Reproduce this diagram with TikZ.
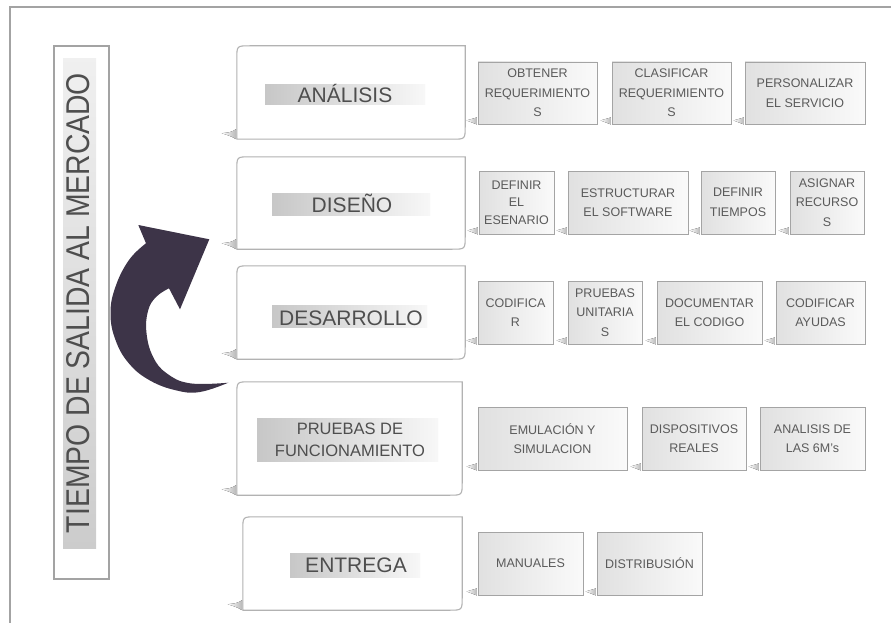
\documentclass[tikz,border=0pt]{standalone}
\usepackage{fontspec}
\usepackage{graphicx}
\setmainfont{Liberation Sans}
\usetikzlibrary{calc}

\definecolor{framegray}{HTML}{A3A3A3}
\definecolor{boxline}{HTML}{B2B2B2}
\definecolor{subline}{HTML}{A4A4A4}
\definecolor{txtgray}{HTML}{4E4E4E}
\definecolor{subtxt}{HTML}{5A5A5A}
\definecolor{arrowpurple}{HTML}{3D3448}

\tikzset{
  stagearea/.style={inner sep=0pt, draw=none},
  stageline/.style={draw=boxline, line width=1.1pt, fill=white},
  stagelabel/.style={text=txtgray, font=\fontsize{21}{24}\selectfont, inner sep=0pt, anchor=base},
  band/.style={left color=black!22, right color=black!3, draw=none},
  subbox/.style={draw=subline, line width=0.9pt, left color=black!12, right color=black!2,
    text=subtxt, font=\fontsize{12.5}{19.5}\selectfont, align=center, inner sep=1pt},
  dropshade/.style={left color=white, right color=black!28, draw=none},
}

% frame of a stage: rounded top-left and bottom-right corners, soft shadow at bottom-left
\newcommand{\stageframe}[1]{%
  \fill[dropshade] ([yshift=10pt,xshift=-0.6pt]#1.south west) .. controls ([xshift=-6pt,yshift=7pt]#1.south west) ..
     ([xshift=-15pt,yshift=6pt]#1.south west) .. controls ([xshift=-6pt,yshift=3pt]#1.south west) ..
     ([xshift=-0.6pt]#1.south west) -- cycle;
  \draw[stageline] (#1.south west) -- ([yshift=-13pt]#1.north west) .. controls (#1.north west) ..
     ([xshift=13pt]#1.north west) -- (#1.north east) -- ([yshift=13pt]#1.south east)
     .. controls (#1.south east) .. ([xshift=-13pt]#1.south east) -- cycle;}

% small shadow at the bottom-left of a task box
\newcommand{\taskshadow}[1]{%
  \fill[dropshade] ([yshift=7pt,xshift=-0.6pt]#1.south west) .. controls ([xshift=-5pt,yshift=5pt]#1.south west) ..
     ([xshift=-11pt,yshift=4pt]#1.south west) .. controls ([xshift=-5pt,yshift=2pt]#1.south west) ..
     ([xshift=-0.6pt]#1.south west) -- cycle;}

\begin{document}
\begin{tikzpicture}[x=1pt,y=-1pt]
\useasboundingbox (0,0) rectangle (891,623);

% outer frame
\draw[framegray, line width=1.2pt] (10,623) -- (10,7) -- (891,7);

% time-to-market bar
\node[draw=framegray, line width=1.2pt, minimum width=55pt, minimum height=533pt, inner sep=0pt] (tsmbox) at (81.5,312.5) {};
\fill[top color=black!6, bottom color=black!20] (63,59) rectangle (96,548);
\node[rotate=90, text=txtgray, inner sep=0pt] (tsm) at (78.5,303) {\resizebox{460pt}{23pt}{TIEMPO DE SALIDA AL MERCADO}};

% curved arrow
\fill[arrowpurple] (209.3,239.3) -- (180,309.3) -- (169,288.3)
  -- plot[smooth, tension=0.7] coordinates {(169,288.3) (156,297) (148,311) (146.5,333) (153,356.7) (166.7,373.3) (190,383.3) (228.3,382.7)}
  -- plot[smooth, tension=0.7] coordinates {(228.3,382.7) (200,392) (176.7,390.5) (150,380.5) (129,363.5) (115.5,340) (110.5,313.3) (115.5,286.7) (129,260) (146,243.3)}
  -- (138.3,225) -- cycle;

% stages
\node[stagearea, minimum width=228pt, minimum height=93pt] (ana) at (351,92.5) {};
\node[stagearea, minimum width=228pt, minimum height=92pt] (dis) at (351,203) {};
\node[stagearea, minimum width=228pt, minimum height=93pt] (des) at (351,312.5) {};
\node[stagearea, minimum width=225pt, minimum height=113pt] (pru) at (349.5,438.5) {};
\node[stagearea, minimum width=219pt, minimum height=93pt] (ent) at (352.5,563.5) {};
\stageframe{ana}\stageframe{dis}\stageframe{des}\stageframe{pru}\stageframe{ent}

\fill[band] (265,85) rectangle (425,105);
\fill[band] (272,193) rectangle (430,215);
\fill[band] (272,305) rectangle (427,327);
\fill[band] (257,418) rectangle (438,461);
\fill[band] (290,553) rectangle (420,577);

\node[stagelabel] (analbl) at (345,103) {ANÁLISIS};
\node[stagelabel] (dislbl) at (352,212) {DISEÑO};
\node[stagelabel] (deslbl) at (351,325) {DESARROLLO};
\node[text=txtgray, font=\fontsize{16.5}{22}\selectfont, align=center, inner sep=0pt] (prulbl) at (350,440) {PRUEBAS DE\\FUNCIONAMIENTO};
\node[stagelabel] (entlbl) at (356,572) {ENTREGA};

% tasks: analysis
\node[subbox, minimum width=119pt, minimum height=62pt] (a1) at (537.5,93) {OBTENER\\REQUERIMIENTO\\S};
\node[subbox, minimum width=119pt, minimum height=62pt] (a2) at (671.5,93) {CLASIFICAR\\REQUERIMIENTO\\S};
\node[subbox, minimum width=120pt, minimum height=62pt] (a3) at (805,93) {PERSONALIZAR\\EL SERVICIO};
% tasks: design
\node[subbox, minimum width=75pt, minimum height=63pt, font=\fontsize{12.5}{17.5}\selectfont] (b1) at (516.5,202.5) {DEFINIR\\EL\\ESENARIO};
\node[subbox, minimum width=120pt, minimum height=63pt] (b2) at (628,202.5) {ESTRUCTURAR\\EL SOFTWARE};
\node[subbox, minimum width=74pt, minimum height=63pt] (b3) at (738,202.5) {DEFINIR\\TIEMPOS};
\node[subbox, minimum width=74pt, minimum height=63pt] (b4) at (827,202.5) {ASIGNAR\\RECURSO\\S};
% tasks: development
\node[subbox, minimum width=75pt, minimum height=63pt] (c1) at (515.5,312.5) {CODIFICA\\R};
\node[subbox, minimum width=74pt, minimum height=63pt] (c2) at (605,312.5) {PRUEBAS\\UNITARIA\\S};
\node[subbox, minimum width=105pt, minimum height=63pt] (c3) at (709.5,312.5) {DOCUMENTAR\\EL CODIGO};
\node[subbox, minimum width=89pt, minimum height=63pt] (c4) at (820.5,312.5) {CODIFICAR\\AYUDAS};
% tasks: testing
\node[subbox, minimum width=149pt, minimum height=63pt] (d1) at (552.5,438.5) {EMULACIÓN Y\\SIMULACION};
\node[subbox, minimum width=104pt, minimum height=63pt] (d2) at (694,438.5) {DISPOSITIVOS\\REALES};
\node[subbox, minimum width=105pt, minimum height=63pt] (d3) at (812.5,438.5) {ANALISIS DE\\LAS 6M’s};
% tasks: delivery
\node[subbox, minimum width=105pt, minimum height=63pt] (e1) at (530.5,563.5) {MANUALES};
\node[subbox, minimum width=105pt, minimum height=63pt] (e2) at (649.5,563.5) {DISTRIBUSIÓN};

\foreach \t in {a1,a2,a3,b1,b2,b3,b4,c1,c2,c3,c4,d1,d2,d3,e1,e2} {\taskshadow{\t}}
\end{tikzpicture}
\end{document}
